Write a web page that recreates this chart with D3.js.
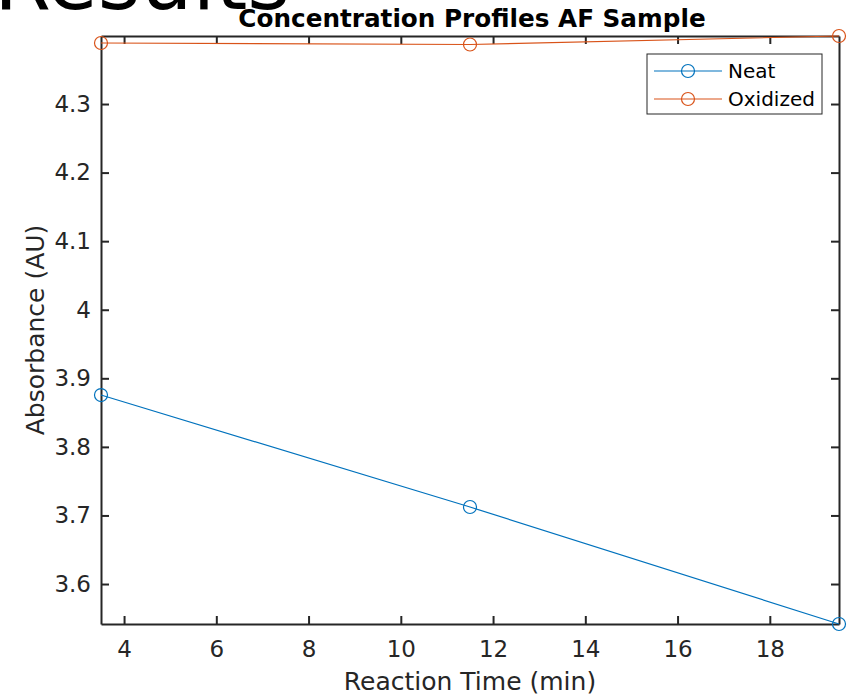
<!DOCTYPE html>
<html lang="en">
  <head>
    <meta charset="utf-8">
    <title>Concentration Profiles AF Sample</title>
    <script type="text/javascript" src="https://cdn.jsdelivr.net/npm/d3@7"></script>
    <style>
      body { margin: 0; background: #fff; }
      svg { display: block; font-family: "DejaVu Sans", sans-serif; }
      .axis path, .axis line { fill: none; stroke: #262626; stroke-width: 2; }
      .axis text { fill: #262626; font-size: 23px; font-family: "DejaVu Sans", sans-serif; }
    </style>
  </head>
  <body>
    <script type="text/javascript">

      // data
      var times = [3.5, 11.5, 19.5];
      var neat = [3.8756, 3.7123, 3.5417];
      var oxidized = [4.3890, 4.3868, 4.3992];
      var seriesNames = ["Neat", "Oxidized"];
      var seriesColors = ["#0072BD", "#D95319"];
      var xTicks = [4, 6, 8, 10, 12, 14, 16, 18];
      var yTicks = [3.6, 3.7, 3.8, 3.9, 4.0, 4.1, 4.2, 4.3];

      var W = 851, H = 695;
      var margin = {top: 36, right: 12, bottom: 71, left: 101};

      var svg = d3.select("body").append("svg")
        .attr("width", W)
        .attr("height", H);

      var xScale = d3.scaleLinear()
        .domain([3.5, 19.5])
        .range([margin.left, W - margin.right]);

      var yScale = d3.scaleLinear()
        .domain([d3.min(neat), d3.max(oxidized)])
        .range([H - margin.bottom, margin.top]);

      // heading text from the page behind the figure, cut off at the top
      svg.append("text")
        .attr("x", -6)
        .attr("y", 9)
        .attr("font-size", 82)
        .attr("fill", "#000")
        .text("Results");

      var tick = 8;

      // bottom / top axes
      svg.append("g")
        .attr("class", "axis")
        .attr("transform", "translate(0," + yScale.range()[0] + ")")
        .call(d3.axisBottom(xScale).tickValues(xTicks).tickSizeInner(-tick).tickSizeOuter(0).tickPadding(17))
        .selectAll("text").attr("dy", "0.71em");

      svg.append("g")
        .attr("class", "axis")
        .attr("transform", "translate(0," + yScale.range()[1] + ")")
        .call(d3.axisTop(xScale).tickValues(xTicks).tickSizeInner(-tick).tickSizeOuter(0).tickFormat(""));

      // left / right axes
      svg.append("g")
        .attr("class", "axis")
        .attr("transform", "translate(" + xScale.range()[0] + ",0)")
        .call(d3.axisLeft(yScale).tickValues(yTicks).tickSizeInner(-tick).tickSizeOuter(0).tickPadding(10)
          .tickFormat(function(d) { return d3.format("")(+d.toFixed(1)); }));

      svg.append("g")
        .attr("class", "axis")
        .attr("transform", "translate(" + xScale.range()[1] + ",0)")
        .call(d3.axisRight(yScale).tickValues(yTicks).tickSizeInner(-tick).tickSizeOuter(0).tickFormat(""));

      // lines and markers
      var series = [neat, oxidized];
      var line = d3.line()
        .x(function(d, i) { return xScale(times[i]); })
        .y(function(d) { return yScale(d); });

      series.forEach(function(vals, k) {
        svg.append("path")
          .datum(vals)
          .attr("fill", "none")
          .attr("stroke", seriesColors[k])
          .attr("stroke-width", 1.2)
          .attr("d", line);

        svg.selectAll(".m" + k)
          .data(vals)
          .enter()
          .append("circle")
          .attr("class", "m" + k)
          .attr("cx", function(d, i) { return xScale(times[i]); })
          .attr("cy", function(d) { return yScale(d); })
          .attr("r", 6.5)
          .attr("fill", "none")
          .attr("stroke", seriesColors[k])
          .attr("stroke-width", 1.2);
      });

      // title
      svg.append("text")
        .attr("x", (xScale.range()[0] + xScale.range()[1]) / 2 + 2)
        .attr("y", 27)
        .attr("text-anchor", "middle")
        .attr("font-size", 24.7)
        .attr("font-weight", "bold")
        .attr("fill", "#000")
        .text("Concentration Profiles AF Sample");

      // axis labels
      svg.append("text")
        .attr("x", (xScale.range()[0] + xScale.range()[1]) / 2)
        .attr("y", 690)
        .attr("text-anchor", "middle")
        .attr("font-size", 25)
        .attr("fill", "#262626")
        .text("Reaction Time (min)");

      svg.append("text")
        .attr("transform", "translate(44," + ((yScale.range()[0] + yScale.range()[1]) / 2) + ") rotate(-90)")
        .attr("text-anchor", "middle")
        .attr("font-size", 25)
        .attr("fill", "#262626")
        .text("Absorbance (AU)");

      // legend
      var legend = svg.append("g").attr("transform", "translate(647,54)");
      legend.append("rect")
        .attr("width", 175)
        .attr("height", 60)
        .attr("fill", "#fff")
        .attr("stroke", "#262626")
        .attr("stroke-width", 1);

      seriesNames.forEach(function(name, k) {
        var yy = 17 + k * 28;
        legend.append("line")
          .attr("x1", 7).attr("x2", 75)
          .attr("y1", yy).attr("y2", yy)
          .attr("stroke", seriesColors[k])
          .attr("stroke-width", 1.2);
        legend.append("circle")
          .attr("cx", 41).attr("cy", yy).attr("r", 6.5)
          .attr("fill", "none")
          .attr("stroke", seriesColors[k])
          .attr("stroke-width", 1.2);
        legend.append("text")
          .attr("x", 81).attr("y", yy + 7)
          .attr("font-size", 20)
          .attr("fill", "#000")
          .text(name);
      });

    </script>
  </body>
</html>
